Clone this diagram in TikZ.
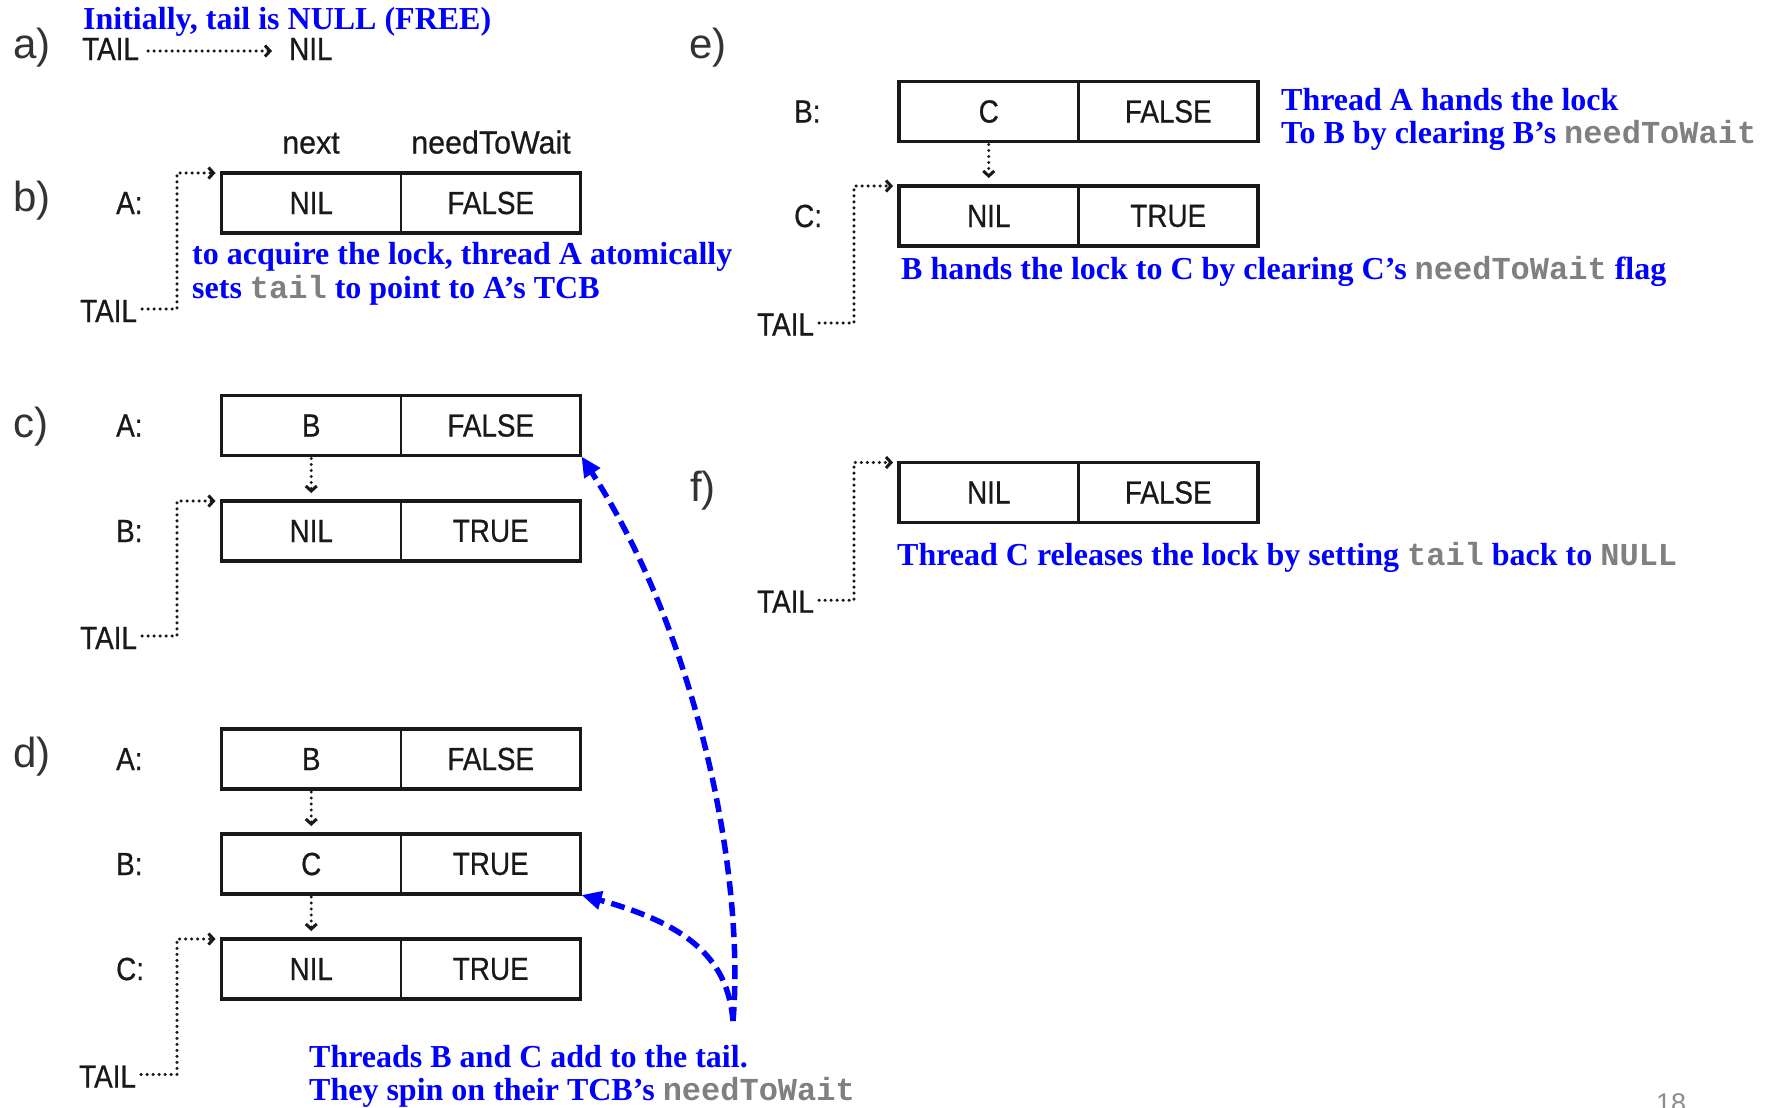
\documentclass[tikz,border=0pt]{standalone}
\usepackage{fontspec}
\setmainfont{Liberation Serif}
\newfontfamily\lblfont[FakeStretch=0.87,FakeBold=0.6]{Liberation Sans}
\newfontfamily\hdrfont[FakeStretch=0.95,FakeBold=0.6]{Liberation Sans}
\newfontfamily\plainsans{Liberation Sans}
\newfontfamily\codefont{Liberation Mono}
\usetikzlibrary{arrows.meta,calc}

\definecolor{codegray}{RGB}{128,128,128}
\definecolor{noteblue}{RGB}{0,0,255}
\definecolor{ink}{RGB}{25,25,25}

% code words inside the blue notes
\newcommand\code[1]{{\codefont\bfseries\color{codegray}#1}}

\tikzset{
  lbl/.style={inner sep=0pt, text=ink, font=\lblfont\fontsize{32}{32}\selectfont},
  hdr/.style={inner sep=0pt, text=ink, font=\hdrfont\fontsize{32}{32}\selectfont, anchor=base},
  panel/.style={anchor=west, inner sep=0pt, text=black!80, font=\plainsans\fontsize{42}{42}\selectfont},
  cell/.style={lbl, minimum width=179.5pt, minimum height=60pt, outer sep=0pt},
  boxline/.style={draw=ink, line width=3.6pt},
  divline/.style={draw=ink, line width=2.6pt},
  ptr/.style={draw=ink, line width=3.4pt, line cap=round, dash pattern=on 0pt off 6pt,
    -{Straight Barb[length=5pt,width=11pt,line width=3pt]}},
  note/.style={anchor=base west, inner sep=0pt, text=noteblue, font=\bfseries\fontsize{32}{34}\selectfont},
  spinarrow/.style={draw=noteblue, line width=5.5pt, dash pattern=on 14pt off 7pt,
    -{Triangle[length=20pt,width=18pt]}},
}

% one TCB record: name, left x, top y, next field, needToWait field
\newcommand\tcbrow[5]{%
  \node[cell] (#1-n) at ({#2+89.75},{#3+30}) {#4};
  \node[cell] (#1-w) at ({#2+269.25},{#3+30}) {#5};
  \draw[boxline] (#1-n.north west) rectangle (#1-w.south east);
  \draw[divline] (#1-n.north east) -- (#1-n.south east);
}

\begin{document}
\begin{tikzpicture}[x=1pt,y=-1pt]
\fill[white] (0,0) rectangle (1772,1108);
\useasboundingbox (0,0) rectangle (1772,1108);
\clip (0,0) rectangle (1772,1108);

% ---------------- a) ----------------
\node[panel] (pa) at (13,48) {a)};
\node[note] (noteA) at (83,30) {Initially, tail is NULL (FREE)};
\node[lbl, anchor=west] (tailA) at (82,49) {TAIL};
\node[lbl, anchor=west] (nilA) at (289,49) {NIL};
\draw[ptr, shorten <=9pt, shorten >=17pt] ([yshift=-2pt]tailA.east) -- ([yshift=-2pt]nilA.west);

% ---------------- b) ----------------
\node[panel] (pb) at (13,201) {b)};
\node[hdr] (hdrNext) at (311,153.5) {next};
\node[hdr] (hdrWait) at (491,153.5) {needToWait};
\node[lbl, anchor=west] (rbA) at (116,203) {A:};
\tcbrow{bA}{221.5}{173}{NIL}{FALSE}
\node[lbl, anchor=west] (tailB) at (80,311) {TAIL};
\draw[ptr] ([xshift=5pt,yshift=2pt]tailB.east) -| ($(bA-n.north west)+(-44.5,0)$) -- ([xshift=-6pt]bA-n.north west);
\node[note] (noteB1) at (192,264.5) {to acquire the lock, thread A atomically};
\node[note] (noteB2) at (192,298.5) {sets \code{tail} to point to A’s TCB};

% ---------------- c) ----------------
\node[panel] (pc) at (13,426.5) {c)};
\node[lbl, anchor=west] (rcA) at (116,425.5) {A:};
\node[lbl, anchor=west] (rcB) at (116,531) {B:};
\tcbrow{cA}{221.5}{395.5}{B}{FALSE}
\tcbrow{cB}{221.5}{501}{NIL}{TRUE}
\draw[ptr, shorten <=3pt, shorten >=8pt] (cA-n.south) -- (cB-n.north);
\node[lbl, anchor=west] (tailC) at (80,638) {TAIL};
\draw[ptr] ([xshift=5pt,yshift=2pt]tailC.east) -| ($(cB-n.north west)+(-44.5,0)$) -- ([xshift=-6pt]cB-n.north west);

% ---------------- d) ----------------
\node[panel] (pd) at (13,757) {d)};
\node[lbl, anchor=west] (rdA) at (116,759) {A:};
\node[lbl, anchor=west] (rdB) at (116,864) {B:};
\node[lbl, anchor=west] (rdC) at (116,969) {C:};
\tcbrow{dA}{221.5}{729}{B}{FALSE}
\tcbrow{dB}{221.5}{834}{C}{TRUE}
\tcbrow{dC}{221.5}{939}{NIL}{TRUE}
\draw[ptr, shorten <=3pt, shorten >=8pt] (dA-n.south) -- (dB-n.north);
\draw[ptr, shorten <=3pt, shorten >=8pt] (dB-n.south) -- (dC-n.north);
\node[lbl, anchor=west] (tailD) at (79,1076.5) {TAIL};
\draw[ptr] ([xshift=5pt,yshift=2pt]tailD.east) -| ($(dC-n.north west)+(-44.5,0)$) -- ([xshift=-6pt]dC-n.north west);
\node[note] (noteD1) at (309,1067.5) {Threads B and C add to the tail.};
\node[note] (noteD2) at (309,1100) {They spin on their TCB’s \code{needToWait}};

% spinning threads watch the needToWait flags
\coordinate (spinfoot) at (733,1021);
\draw[spinarrow] (spinfoot) .. controls (745,880) and (700,640) .. ([shift={(1pt,-1pt)}]cA-w.south east);
\draw[spinarrow] (spinfoot) .. controls (728,960) and (690,925) .. ([shift={(1pt,-1pt)}]dB-w.south east);

% ---------------- e) ----------------
\node[panel] (pe) at (689,48) {e)};
\node[lbl, anchor=west] (reB) at (794,111.5) {B:};
\node[lbl, anchor=west] (reC) at (794,216) {C:};
\tcbrow{eB}{899}{81.5}{C}{FALSE}
\tcbrow{eC}{899}{186}{NIL}{TRUE}
\draw[ptr, shorten <=3pt, shorten >=8pt] (eB-n.south) -- (eC-n.north);
\node[lbl, anchor=west] (tailE) at (757,324.5) {TAIL};
\draw[ptr] ([xshift=5pt,yshift=1.5pt]tailE.east) -| ($(eC-n.north west)+(-45,0)$) -- ([xshift=-6pt]eC-n.north west);
\node[note] (noteE1) at (1281,110.7) {Thread A hands the lock};
\node[note] (noteE2) at (1281,143.5) {To B by clearing B’s \code{needToWait}};
\node[note] (noteE3) at (901,279.3) {B hands the lock to C by clearing C’s \code{needToWait} flag};

% ---------------- f) ----------------
\node[panel] (pf) at (690,490.5) {f)};
\tcbrow{fC}{899}{462.5}{NIL}{FALSE}
\node[lbl, anchor=west] (tailF) at (757,601.7) {TAIL};
\draw[ptr] ([xshift=5pt,yshift=1.5pt]tailF.east) -| ($(fC-n.north west)+(-45,0)$) -- ([xshift=-6pt]fC-n.north west);
\node[note] (noteF) at (897,565) {Thread C releases the lock by setting \code{tail} back to \code{NULL}};

% slide number
\node[anchor=north west, inner sep=0pt, text=black!45, font=\plainsans\fontsize{27}{27}\selectfont] (pg) at (1656,1093) {18};
\end{tikzpicture}
\end{document}
